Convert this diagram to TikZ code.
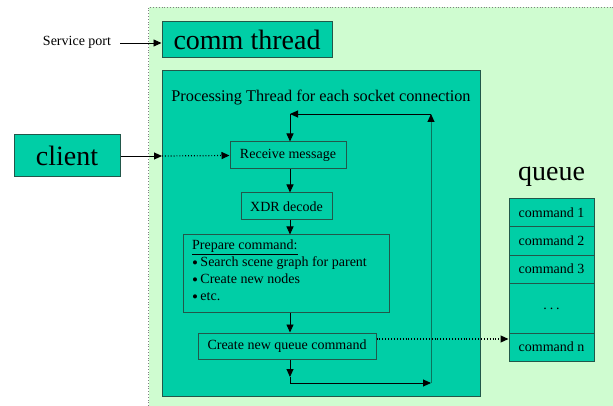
\documentclass[tikz,border=0pt]{standalone}
\usepackage{fontspec}
\setmainfont{Liberation Serif}
\usetikzlibrary{arrows.meta}
\definecolor{paneback}{HTML}{CFFCD0}
\definecolor{boxfill}{HTML}{00CEA6}
\definecolor{boxline}{HTML}{22574A}
\definecolor{loopline}{HTML}{0A735C}
\newcommand{\bulletmark}{\smash{\raisebox{-1.5pt}{\fontsize{17}{17}\selectfont•}}\,}
\begin{document}
\begin{tikzpicture}[x=1pt,y=-1pt,
  box/.style={draw=boxline,line width=1pt,fill=boxfill,inner sep=0pt,
    minimum width=#1},
  small/.style={font=\fontsize{14}{16}\selectfont},
  big/.style={font=\fontsize{28}{32}\selectfont},
  conn/.style={line width=0.9pt,-{Triangle[length=8pt,width=7pt]}},
  dotconn/.style={conn,dotted,line width=1.2pt},
  qrow/.style={box=85pt,small,minimum height=28pt}]
\useasboundingbox (0,0) rectangle (613,406);
% shaded pane holding the server side
\fill[paneback] (148.5,7.5) rectangle (613,406);
\draw[gray,dotted,line width=0.8pt] (148.5,406) -- (148.5,7.5) -- (613,7.5);

% outer boxes
\node[box=170pt,minimum height=36pt,big] (comm) at (247,40) {comm thread};
\node[box=318pt,minimum height=325pt] (proc) at (321,233.5) {};
\node[font=\fontsize{16.3}{18}\selectfont] (title) at (321,98) {Processing Thread for each socket connection};
\node[box=106pt,minimum height=42pt,big] (client) at (67,156) {client};
\node[small] (svc) at (77,42) {Service port};
\coordinate (svcend) at (120,43);

% processing steps
\node[box=116pt,minimum height=27pt,small] (recv) at (288,155.5) {Receive message};
\node[box=91pt,minimum height=27pt,small] (xdr) at (286.5,206.5) {XDR decode};
\node[box=206pt,minimum height=77pt] (prep) at (286,273.5) {};
\node[anchor=north west,inner sep=0pt,align=left,
  font=\fontsize{14}{17}\selectfont] (preptext) at (192,240)
  {\underline{Prepare command:}\\
   \bulletmark Search scene graph for parent\\
   \bulletmark Create new nodes\\
   \bulletmark etc.};
\node[box=178pt,minimum height=26pt,small] (create) at (287,346) {Create new queue command};

% queue
\node[big] (qlabel) at (551.5,177) {queue};
\node[qrow] (q1) at (551.5,213) {command 1};
\node[qrow] (q2) at (551.5,241) {command 2};
\node[qrow] (q3) at (551.5,269) {command 3};
\node[box=85pt,small,minimum height=50pt] (qdots) at (551.5,308) {\raisebox{-3pt}{.\hspace{3pt}.\hspace{3pt}.}};
\node[qrow] (qn) at (551.5,347) {command n};

% loop route coordinates
\coordinate (t0) at (290,114);
\coordinate (t1) at (431,114);
\coordinate (b2) at (431,383);
\coordinate (b1) at (290,383);
\coordinate (b0) at (290,377);
\coordinate (cin) at (162,156);

% connectors
\draw[conn] (svcend) -- (comm.west |- svcend);
\draw[conn] (client.east) -- (cin);
\draw[dotconn] (cin) -- (recv.west);
\draw[conn] (t0) -- (t0 |- recv.north);
\draw[conn] (t0 |- recv.south) -- (t0 |- xdr.north);
\draw[conn] (t0 |- xdr.south) -- (t0 |- prep.north);
\draw[conn] (t0 |- prep.south) -- (t0 |- create.north);
\draw[conn] (t0 |- create.south) -- (b0);
\draw[conn] (b0) -- (b1) -- (b2);
\draw[line width=0.9pt,loopline,-{Triangle[length=8pt,width=7pt,color=black]}] (b2) -- (t1);
\draw[conn] (t1) -- (t0);
\draw[dotconn] ([yshift=7pt]create.east) -- ([yshift=7pt]create.east -| qn.west);
\end{tikzpicture}
\end{document}
